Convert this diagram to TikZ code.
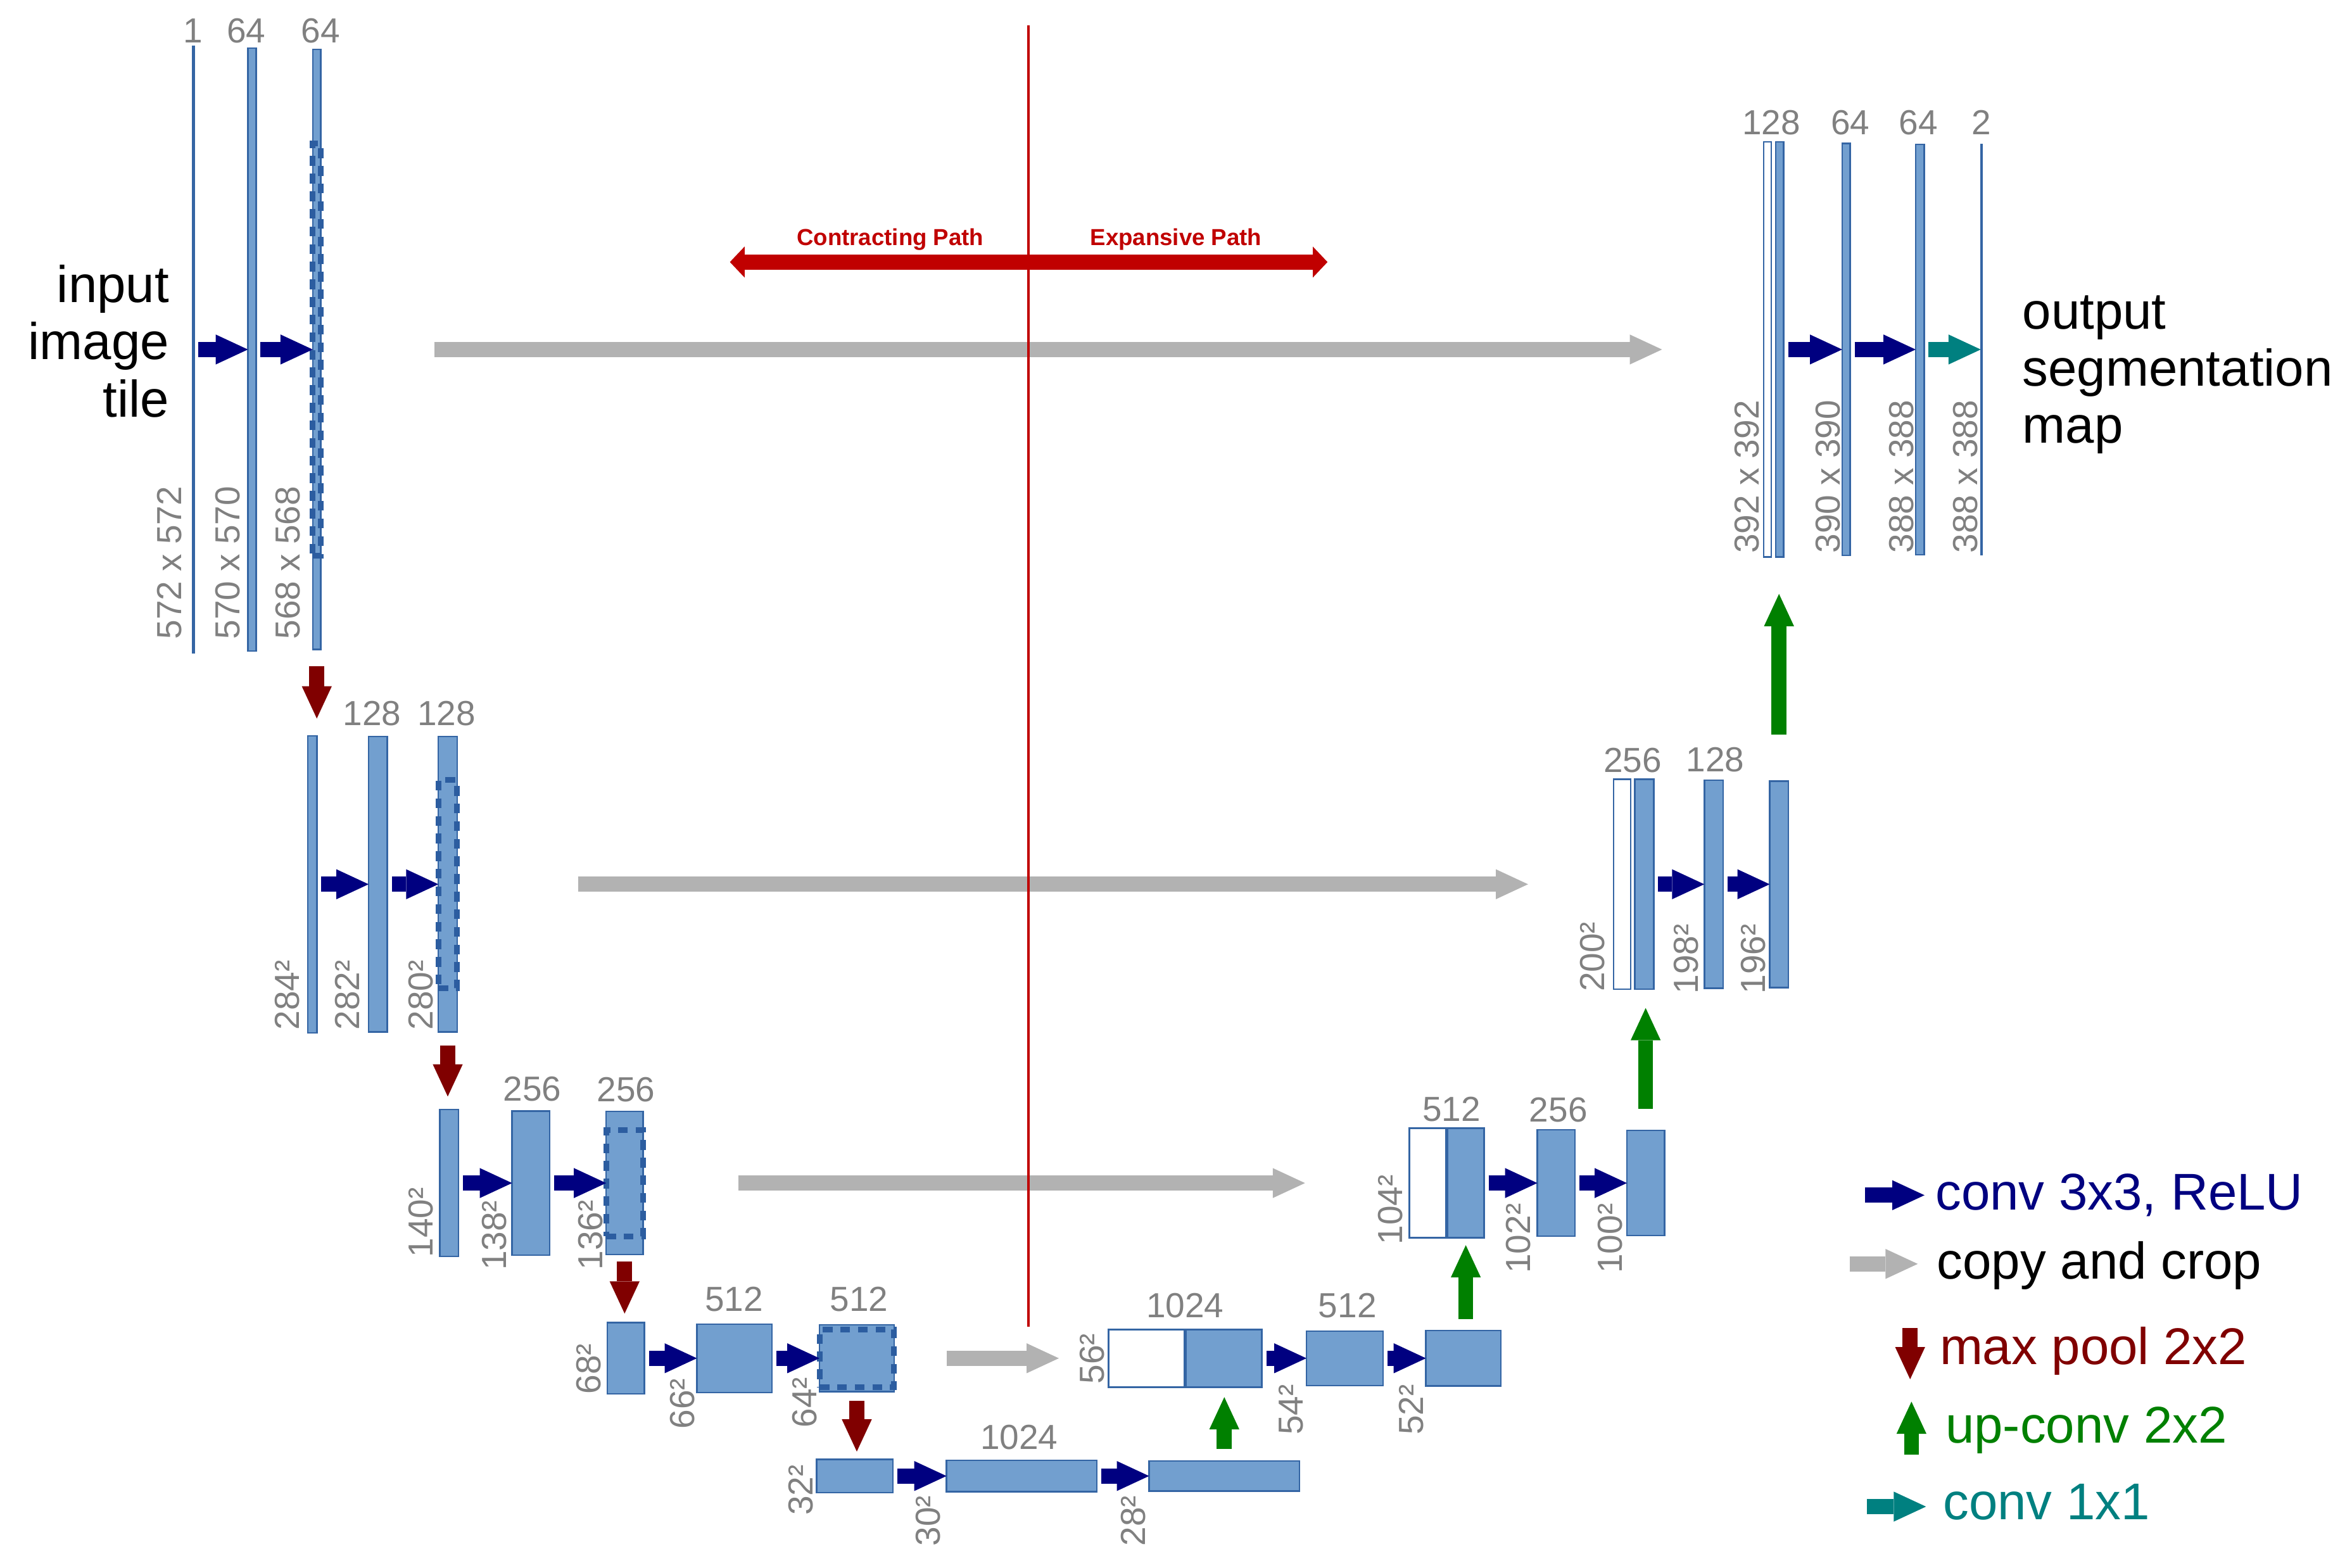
\documentclass[tikz,border=0pt]{standalone}
\usepackage{fontspec}
\setmainfont{Liberation Sans}
\usetikzlibrary{arrows.meta}

\newlength{\dpx}
\setlength{\dpx}{0.2mm}

\definecolor{fmfill}{RGB}{114,159,207}
\definecolor{fmline}{RGB}{52,101,164}
\definecolor{cropline}{RGB}{44,93,160}
\definecolor{labgray}{RGB}{128,128,128}
\definecolor{convblue}{RGB}{0,0,128}
\definecolor{copygray}{RGB}{178,178,178}
\definecolor{poolred}{RGB}{128,0,0}
\definecolor{upgreen}{RGB}{0,128,0}
\definecolor{finalteal}{RGB}{0,128,128}
\definecolor{pathred}{RGB}{192,0,0}

\tikzset{
    fmap/.style 2 args={draw=fmline, fill=fmfill, line width=0.6pt,
        inner sep=0pt, outer sep=0pt, minimum width=#1\dpx, minimum height=#2\dpx},
    fmcopy/.style 2 args={fmap={#1}{#2}, fill=white},
    fmcrop/.style 2 args={draw=cropline, line width=0.75mm,
        dash pattern=on 1.3mm off 1.05mm, inner sep=0pt, outer sep=0pt,
        minimum width=#1\dpx, minimum height=#2\dpx}
}

\begin{document}
\begin{tikzpicture}[x=0.2mm, y=-0.2mm,
    chlabel/.style={text=labgray, font=\fontsize{13.2}{15}\selectfont,
        anchor=base, inner sep=0pt},
    szlabel/.style={chlabel, rotate=90, anchor=south west},
    blockarrow/.style={line width=2mm,
        -{Triangle[width=4mm, length=4.3mm, line width=0pt]}},
    conv/.style={blockarrow, draw=convblue, shorten <=3\dpx},
    finalconv/.style={blockarrow, draw=finalteal, shorten <=3\dpx},
    copycrop/.style={blockarrow, draw=copygray},
    pool/.style={blockarrow, draw=poolred},
    upconv/.style={blockarrow, draw=upgreen},
    divider/.style={draw=pathred, line width=1.05pt},
    pathdir/.style={draw=pathred, line width=2mm,
        {Triangle[width=4.14mm, length=1.96mm, line width=0pt]}-{Triangle[width=4.14mm, length=1.96mm, line width=0pt]}},
    pathtext/.style={text=pathred, font=\bfseries\fontsize{8.8}{10}\selectfont,
        anchor=base, inner sep=0pt},
    bigtext/.style={font=\fontsize{19.6}{21.7}\selectfont, inner sep=0pt},
    legendtext/.style={bigtext, anchor=base west}]

\useasboundingbox (0,0) rectangle (1568,1045);

% contracting path
\node[fmap={1}{404}] (in1) at (128.8,233) {};
\node[fmap={5.4}{402}] (d1a) at (168,233) {};
\node[fmap={5.4}{400}] (d1b) at (211.2,233) {};
\node[fmcrop={5.4}{274.6}] (c1) at (d1b) {};

\node[fmap={6}{198}] (d2a) at (208.2,589.5) {};
\node[fmap={12.5}{197}] (d2b) at (252,589.5) {};
\node[fmap={12.5}{197}] (d2c) at (298.5,589.5) {};
\node[fmcrop={12.5}{139}] (c2) at (d2c) {};

\node[fmap={12.5}{98}] (d3a) at (299.4,788.7) {};
\node[fmap={25}{96}] (d3b) at (353.9,788.7) {};
\node[fmap={24.6}{95.4}] (d3c) at (416.4,788.7) {};
\node[fmcrop={24.6}{71}] (c3) at (d3c) {};

\node[fmap={24.7}{47.6}] (d4a) at (417.3,905.5) {};
\node[fmap={50}{45.6}] (d4b) at (489.6,905.5) {};
\node[fmap={49.7}{44.5}] (d4c) at (571.2,905.5) {};
\node[fmcrop={49.7}{38.5}] (c4) at (d4c) {};

\node[fmap={51}{22}] (b5a) at (569.8,984) {};
\node[fmap={100.2}{21}] (b5b) at (681.1,984) {};
\node[fmap={100.3}{20}] (b5c) at (816.2,984) {};

% expansive path
\node[fmcopy={50.6}{38.4}] (u4w) at (764.3,905.5) {};
\node[fmap={50.6}{38.4}] (u4b) at (815.9,905.5) {};
\node[fmap={51}{36.3}] (u4c) at (896.5,905.5) {};
\node[fmap={50}{36.8}] (u4d) at (975.6,905.5) {};

\node[fmcopy={24.4}{73}] (u3w) at (951.8,788.7) {};
\node[fmap={24.4}{73}] (u3b) at (977.2,788.7) {};
\node[fmap={25}{71}] (u3c) at (1037.4,788.7) {};
\node[fmap={25}{70}] (u3d) at (1097.1,788.7) {};

\node[fmcopy={11.4}{140}] (u2w) at (1081.4,589.5) {};
\node[fmap={12.5}{140}] (u2b) at (1096.2,589.5) {};
\node[fmap={12.6}{138.6}] (u2c) at (1142.5,589.5) {};
\node[fmap={12.4}{137.6}] (u2d) at (1186,589.5) {};

\node[fmcopy={5}{276.7}] (u1w) at (1178.3,233) {};
\node[fmap={5.4}{276.7}] (u1b) at (1186.4,233) {};
\node[fmap={5.4}{274.7}] (u1c) at (1230.8,233) {};
\node[fmap={5.6}{273.6}] (u1d) at (1279.9,233) {};
\node[fmap={1}{273.5}] (out) at (1321,233) {};

% channel numbers
\node[chlabel] (n-in1) at (128.8,28.7) {1};
\node[chlabel] (n-d1a) at (164.2,28.7) {64};
\node[chlabel] (n-d1b) at (213.8,28.7) {64};
\node[chlabel] (n-d2b) at (248,483.7) {128};
\node[chlabel] (n-d2c) at (297.6,483.7) {128};
\node[chlabel] (n-d3b) at (354.8,733.8) {256};
\node[chlabel] (n-d3c) at (417.4,734.2) {256};
\node[chlabel] (n-d4b) at (489.3,874) {512};
\node[chlabel] (n-d4c) at (572.7,874.2) {512};
\node[chlabel] (n-b5b) at (679.4,966) {1024};
\node[chlabel] (n-u4b) at (790,878.4) {1024};
\node[chlabel] (n-u4c) at (898.3,878.4) {512};
\node[chlabel] (n-u3b) at (967.6,747.6) {512};
\node[chlabel] (n-u3c) at (1038.9,748) {256};
\node[chlabel] (n-u2b) at (1088.5,515) {256};
\node[chlabel] (n-u2c) at (1143.4,514.6) {128};
\node[chlabel] (n-u1b) at (1180.8,89.6) {128};
\node[chlabel] (n-u1c) at (1233.6,89.8) {64};
\node[chlabel] (n-u1d) at (1278.9,89.8) {64};
\node[chlabel] (n-out) at (1321,89.8) {2};

% feature map sizes
\node[szlabel] (s-in1) at (121.7,426.5) {572 x 572};
\node[szlabel] (s-d1a) at (160.5,426.5) {570 x 570};
\node[szlabel] (s-d1b) at (200.3,426.5) {568 x 568};
\node[szlabel] (s-d2a) at (200,687) {284²};
\node[szlabel] (s-d2b) at (240.1,687) {282²};
\node[szlabel] (s-d2c) at (289,687) {280²};
\node[szlabel] (s-d3a) at (289,838.5) {140²};
\node[szlabel] (s-d3b) at (338.2,847.2) {138²};
\node[szlabel] (s-d3c) at (402.3,847) {136²};
\node[szlabel] (s-d4a) at (401.2,929.7) {68²};
\node[szlabel] (s-d4b) at (463.3,953) {66²};
\node[szlabel] (s-d4c) at (544.8,952) {64²};
\node[szlabel] (s-b5a) at (542.3,1010.6) {32²};
\node[szlabel] (s-b5b) at (627.5,1031) {30²};
\node[szlabel] (s-b5c) at (764,1031) {28²};
\node[szlabel] (s-u4w) at (736.5,922.9) {56²};
\node[szlabel] (s-u4c) at (869.2,956.9) {54²};
\node[szlabel] (s-u4d) at (949.5,956.9) {52²};
\node[szlabel] (s-u3w) at (935.6,830.1) {104²};
\node[szlabel] (s-u3c) at (1020.8,849.2) {102²};
\node[szlabel] (s-u3d) at (1082,849.2) {100²};
\node[szlabel] (s-u2w) at (1070.3,661.4) {200²};
\node[szlabel] (s-u2c) at (1132.8,662.8) {198²};
\node[szlabel] (s-u2d) at (1177.2,662.8) {196²};
\node[szlabel] (s-u1w) at (1173.2,369.2) {392 x 392};
\node[szlabel] (s-u1c) at (1227.1,369) {390 x 390};
\node[szlabel] (s-u1d) at (1276.3,369) {388 x 388};
\node[szlabel] (s-out) at (1318.7,369) {388 x 388};

% conv 3x3 arrows
\draw[conv] (in1.east) -- (d1a.west);
\draw[conv] (d1a.east) -- (d1b.west);
\draw[conv] (d2a.east) -- (d2b.west);
\draw[conv] (d2b.east) -- (d2c.west);
\draw[conv] (d3a.east) -- (d3b.west);
\draw[conv] (d3b.east) -- (d3c.west);
\draw[conv] (d4a.east) -- (d4b.west);
\draw[conv] (d4b.east) -- (d4c.west);
\draw[conv] (b5a.east) -- (b5b.west);
\draw[conv] (b5b.east) -- (b5c.west);
\draw[conv] (u4b.east) -- (u4c.west);
\draw[conv] (u4c.east) -- (u4d.west);
\draw[conv] (u3b.east) -- (u3c.west);
\draw[conv] (u3c.east) -- (u3d.west);
\draw[conv] (u2b.east) -- (u2c.west);
\draw[conv] (u2c.east) -- (u2d.west);
\draw[conv] (u1b.east) -- (u1c.west);
\draw[conv] (u1c.east) -- (u1d.west);
\draw[finalconv] (u1d.east) -- (out.west);

% max pool
\draw[pool, shorten <=11\dpx, shorten >=11.5\dpx] (d1b.south) -- (d1b.south |- d2a.north);
\draw[pool, shorten <=9\dpx, shorten >=8.7\dpx] (d2c.south) -- (d2c.south |- d3a.north);
\draw[pool, shorten <=4.7\dpx, shorten >=6\dpx] (d3c.south) -- (d3c.south |- d4a.north);
\draw[pool, shorten <=6.2\dpx, shorten >=5.3\dpx] (d4c.south) -- (d4c.south |- b5a.north);

% up-conv
\draw[upconv, shorten <=8\dpx, shorten >=6.7\dpx] (b5c.north) -- (b5c.north |- u4b.south);
\draw[upconv, shorten <=7.8\dpx, shorten >=4.9\dpx] (u3b.south |- u4d.north) -- (u3b.south);
\draw[upconv, shorten <=14.5\dpx, shorten >=12.5\dpx] (u3d.north) -- (u3d.north |- u2b.south);
\draw[upconv, shorten <=31\dpx, shorten >=24.6\dpx] (u2d.north) -- (u2d.north |- u1b.south);

% copy and crop
\draw[copycrop, shorten <=75.8\dpx, shorten >=67.8\dpx] (d1b.east) -- (u1w.west);
\draw[copycrop, shorten <=80.5\dpx, shorten >=57\dpx] (d2c.east) -- (u2w.west);
\draw[copycrop, shorten <=63.4\dpx, shorten >=69.6\dpx] (d3c.east) -- (u3w.west);
\draw[copycrop, shorten <=35.3\dpx, shorten >=33.1\dpx] (d4c.east) -- (u4w.west);

% contracting / expansive
\coordinate (divtop) at (685.7,17);
\coordinate (divbot) at (685.7,884.3);
\coordinate (pathL) at (486.6,174.7);
\coordinate (pathR) at (885,174.7);
\draw[pathdir] (pathL) -- (pathR);
\draw[divider] (divtop) -- (divbot);
\node[pathtext] (contr) at (593.5,163.8) {Contracting Path};
\node[pathtext] (expan) at (784,163.8) {Expansive Path};

% input / output
\node[bigtext, anchor=north east, align=right] (intext) at (113,176.3) {input\\image\\tile};
\node[bigtext, anchor=north west, align=left] (outtext) at (1348,196.6) {output\\segmentation\\map};

% legend
\node[legendtext, text=convblue] (lg-conv) at (1290,806.4) {conv 3x3, ReLU};
\node[legendtext] (lg-copy) at (1291,852.6) {copy and crop};
\node[legendtext, text=poolred] (lg-pool) at (1292.8,909.8) {max pool 2x2};
\node[legendtext, text=upgreen] (lg-up) at (1296.7,962) {up-conv 2x2};
\node[legendtext, text=finalteal] (lg-final) at (1295,1013) {conv 1x1};
\coordinate (lg-conv-a) at (1243.5,796.8);
\coordinate (lg-conv-b) at (1283,796.8);
\coordinate (lg-copy-a) at (1233,842.6);
\coordinate (lg-copy-b) at (1278.5,842.6);
\coordinate (lg-pool-a) at (1273.4,885.3);
\coordinate (lg-pool-b) at (1273.4,919.5);
\coordinate (lg-up-a) at (1274.3,969.9);
\coordinate (lg-up-b) at (1274.3,934.4);
\coordinate (lg-final-a) at (1244.5,1004.4);
\coordinate (lg-final-b) at (1284,1004.4);
\draw[blockarrow, draw=convblue] (lg-conv-a) -- (lg-conv-b);
\draw[copycrop] (lg-copy-a) -- (lg-copy-b);
\draw[pool] (lg-pool-a) -- (lg-pool-b);
\draw[upconv] (lg-up-a) -- (lg-up-b);
\draw[blockarrow, draw=finalteal] (lg-final-a) -- (lg-final-b);
\end{tikzpicture}
\end{document}
